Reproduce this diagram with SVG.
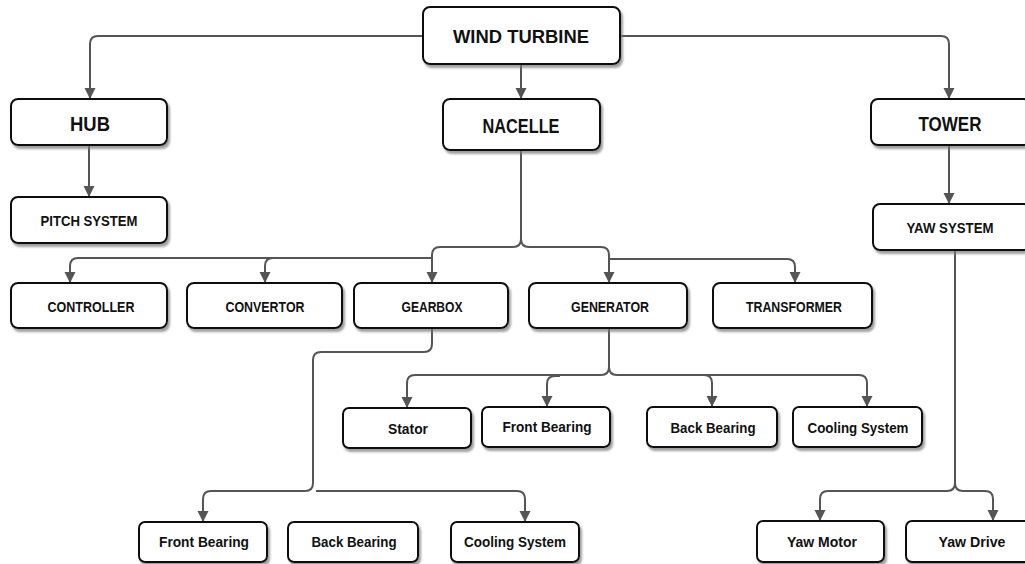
<svg xmlns="http://www.w3.org/2000/svg" width="1025" height="564" viewBox="0 0 1025 564">
<style>
.box{fill:#fff;stroke:#111;stroke-width:2;filter:url(#sh)}
.t{font-family:"Liberation Sans",Arial,sans-serif;font-weight:bold;fill:#111;text-anchor:middle}
.l{font-size:20px}.m{font-size:15px}.s{font-size:15px}
.c{fill:none;stroke:#555;stroke-width:2}
</style>
<defs>
<filter id="sh" x="-10%" y="-20%" width="130%" height="150%">
<feDropShadow dx="2" dy="3" stdDeviation="1.2" flood-color="#777" flood-opacity="0.7"/>
</filter>
<marker id="b" markerWidth="12" markerHeight="11" refX="6" refY="11" orient="0" markerUnits="userSpaceOnUse" viewBox="0 0 12 11">
<path d="M0.5,0 L11.5,0 L6,11 Z" fill="#555"/>
</marker>
</defs>
<g id="connectors" class="c">
<path d="M423,36 H98 Q90,36 90,44 V99" marker-end="url(#b)"/>
<path d="M620,36 H941 Q949,36 949,44 V99" marker-end="url(#b)"/>
<path d="M521,64 V99" marker-end="url(#b)"/>
<path d="M89,145 V197" marker-end="url(#b)"/>
<path d="M949,145 V204" marker-end="url(#b)"/>
<path d="M521,150 V239 Q521,247 513,247 H440 Q432,247 432,255 V283" marker-end="url(#b)"/>
<path d="M521,239 Q521,247 529,247 H601 Q609,247 609,255 V283" marker-end="url(#b)"/>
<path d="M432,258 H78 Q70,258 70,266 V283" marker-end="url(#b)"/>
<path d="M275,258 H273 Q265,258 265,266 V283" marker-end="url(#b)"/>
<path d="M609,259 H787 Q795,259 795,267 V283" marker-end="url(#b)"/>
<path d="M609,328 V367 Q609,375 601,375 H415 Q407,375 407,383 V408" marker-end="url(#b)"/>
<path d="M560,376 H555 Q547,376 547,384 V407" marker-end="url(#b)"/>
<path d="M609,367 Q609,375 617,375 H704 Q712,375 712,383 V407" marker-end="url(#b)"/>
<path d="M704,375 H859 Q867,375 867,383 V407" marker-end="url(#b)"/>
<path d="M432,328 V344 Q432,352 424,352 H321 Q313,352 313,360 V483 Q313,491 305,491 H211 Q203,491 203,499 V522" marker-end="url(#b)"/>
<path d="M316,491 H517 Q525,491 525,499 V522" marker-end="url(#b)"/>
<path d="M955,250 V483 Q955,491 947,491 H828 Q820,491 820,499 V521" marker-end="url(#b)"/>
<path d="M955,483 Q955,491 963,491 H985 Q993,491 993,499 V521" marker-end="url(#b)"/>
</g>
<g id="wind-turbine"><rect class="box" x="423" y="7" width="197" height="57" rx="7"/><text class="t" style="font-size:19px" x="521" y="43" textLength="136" lengthAdjust="spacingAndGlyphs">WIND TURBINE</text></g>
<g id="hub"><rect class="box" x="11" y="99" width="156" height="46" rx="7"/><text class="t" style="font-size:21px" x="90" y="131" textLength="40" lengthAdjust="spacingAndGlyphs">HUB</text></g>
<g id="nacelle"><rect class="box" x="443" y="99" width="157" height="51" rx="7"/><text class="t l" x="521" y="133" textLength="77" lengthAdjust="spacingAndGlyphs">NACELLE</text></g>
<g id="tower"><rect class="box" x="871" y="99" width="160" height="46" rx="7"/><text class="t l" x="950" y="131" textLength="63" lengthAdjust="spacingAndGlyphs">TOWER</text></g>
<g id="pitch-system"><rect class="box" x="11" y="197" width="156" height="46" rx="7"/><text class="t m" x="89" y="226" textLength="97" lengthAdjust="spacingAndGlyphs">PITCH SYSTEM</text></g>
<g id="yaw-system"><rect class="box" x="873" y="204" width="158" height="46" rx="7"/><text class="t m" x="950" y="233" textLength="87" lengthAdjust="spacingAndGlyphs">YAW SYSTEM</text></g>
<g id="controller"><rect class="box" x="11" y="283" width="156" height="45" rx="7"/><text class="t s" x="91" y="312" textLength="87" lengthAdjust="spacingAndGlyphs">CONTROLLER</text></g>
<g id="convertor"><rect class="box" x="187" y="283" width="155" height="45" rx="7"/><text class="t s" x="265" y="312" textLength="79" lengthAdjust="spacingAndGlyphs">CONVERTOR</text></g>
<g id="gearbox"><rect class="box" x="354" y="283" width="154" height="45" rx="7"/><text class="t s" x="432" y="312" textLength="61" lengthAdjust="spacingAndGlyphs">GEARBOX</text></g>
<g id="generator"><rect class="box" x="529" y="283" width="158" height="45" rx="7"/><text class="t s" x="610" y="312" textLength="78" lengthAdjust="spacingAndGlyphs">GENERATOR</text></g>
<g id="transformer"><rect class="box" x="713" y="283" width="159" height="45" rx="7"/><text class="t s" x="794" y="312" textLength="96" lengthAdjust="spacingAndGlyphs">TRANSFORMER</text></g>
<g id="stator"><rect class="box" x="343" y="408" width="128" height="40" rx="6"/><text class="t s" x="408" y="434" textLength="40" lengthAdjust="spacingAndGlyphs">Stator</text></g>
<g id="gen-front-bearing"><rect class="box" x="482" y="407" width="128" height="40" rx="6"/><text class="t s" x="547" y="432" textLength="89" lengthAdjust="spacingAndGlyphs">Front Bearing</text></g>
<g id="gen-back-bearing"><rect class="box" x="647" y="407" width="130" height="40" rx="6"/><text class="t s" x="713" y="433" textLength="85" lengthAdjust="spacingAndGlyphs">Back Bearing</text></g>
<g id="gen-cooling-system"><rect class="box" x="793" y="407" width="129" height="40" rx="6"/><text class="t s" x="858" y="433" textLength="101" lengthAdjust="spacingAndGlyphs">Cooling System</text></g>
<g id="gb-front-bearing"><rect class="box" x="139" y="522" width="128" height="40" rx="6"/><text class="t s" x="204" y="547" textLength="90" lengthAdjust="spacingAndGlyphs">Front Bearing</text></g>
<g id="gb-back-bearing"><rect class="box" x="288" y="522" width="130" height="40" rx="6"/><text class="t s" x="354" y="547" textLength="85" lengthAdjust="spacingAndGlyphs">Back Bearing</text></g>
<g id="gb-cooling-system"><rect class="box" x="451" y="522" width="128" height="40" rx="6"/><text class="t s" x="515" y="547" textLength="102" lengthAdjust="spacingAndGlyphs">Cooling System</text></g>
<g id="yaw-motor"><rect class="box" x="757" y="521" width="127" height="41" rx="6"/><text class="t s" x="822" y="547" textLength="70" lengthAdjust="spacingAndGlyphs">Yaw Motor</text></g>
<g id="yaw-drive"><rect class="box" x="906" y="521" width="126" height="41" rx="6"/><text class="t s" x="972" y="547" textLength="67" lengthAdjust="spacingAndGlyphs">Yaw Drive</text></g>
</svg>
